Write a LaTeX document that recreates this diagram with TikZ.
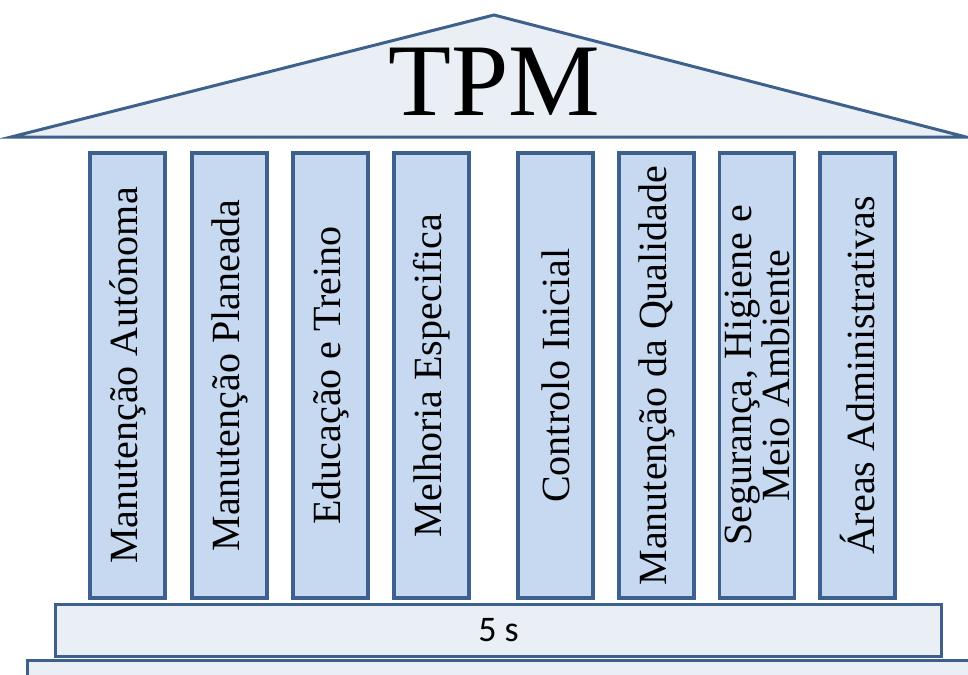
\documentclass[tikz,border=0pt]{standalone}
\usepackage{fontspec}
\setmainfont{Liberation Serif}
\newfontfamily\basefont{Carlito}
\usetikzlibrary{positioning}
\definecolor{tpmline}{RGB}{62,96,140}
\definecolor{tpmroof}{RGB}{233,239,244}
\definecolor{tpmcol}{RGB}{198,217,240}
\tikzstyle{pillar} = [draw=tpmline, line width=3.5pt, fill=tpmcol, rotate=90, minimum width=445pt, minimum height=75pt, inner sep=0pt, align=center, font=\fontsize{40}{38}\selectfont]
\tikzstyle{slab} = [draw=tpmline, line width=3pt, fill=tpmroof]

\begin{document}
\begin{tikzpicture}[x=1pt, y=-1pt]
\useasboundingbox (0,0) rectangle (968,674);
\clip (0,0) rectangle (968,674);

% Roof
\draw[slab, line join=miter] (11,137) -- (494,15) -- (966,137) -- cycle;
\node[font=\fontsize{103}{103}\selectfont] (tpm) at (494,82) {TPM};

% Pillars
\node[pillar] (p1) at (127.5,375.5) {Manutenção Autónoma};
\node[pillar] (p2) at (229.5,375.5) {Manutenção Planeada};
\node[pillar] (p3) at (330.5,375.5) {Educação e Treino};
\node[pillar] (p4) at (431.5,375.5) {Melhoria Especifica};
\node[pillar] (p5) at (555.5,375.5) {Controlo Inicial};
\node[pillar] (p6) at (656.5,375.5) {Manutenção da Qualidade};
\node[pillar] (p7) at (757,375.5) {Segurança, Higiene e\\Meio Ambiente};
\node[pillar] (p8) at (857.5,375.5) {Áreas Administrativas};

% Base steps
\node[slab, minimum width=886pt, minimum height=52pt, inner sep=0pt, font=\basefont\fontsize{36}{36}\selectfont] (fives) at (498.5,630) {5 s};
\node[slab, minimum width=960pt, minimum height=40pt, inner sep=0pt, anchor=north west] (step0) at (25.5,658.5) {};
\end{tikzpicture}
\end{document}
